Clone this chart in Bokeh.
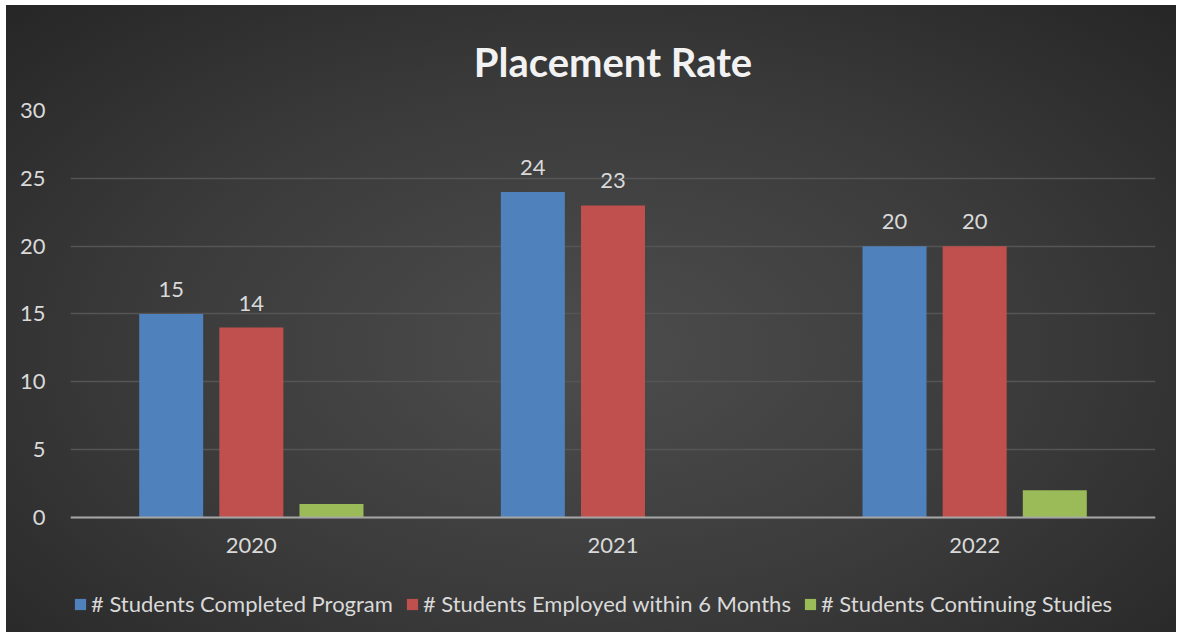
from bokeh.plotting import figure
from bokeh.models import ColumnDataSource, FactorRange, Range1d, Legend, LegendItem
from bokeh.transform import dodge
from bokeh.core.properties import value
from bokeh.embed import file_html
from bokeh.resources import INLINE

years = ["2020", "2021", "2022"]
completed = [15, 24, 20]
employed = [14, 23, 20]
continuing = [1, 0, 2]
series_names = ["# Students Completed Program", "# Students Employed within 6 Months", "# Students Continuing Studies"]
y_ticks = [0, 5, 10, 15, 20, 25, 30]

FONT = "Lato"
TXT = "#d9d9d9"
FS = "22px"

src = ColumnDataSource(dict(year=years, completed=completed, employed=employed, continuing=continuing,
                            lab_c=[str(v) for v in completed], lab_e=[str(v) for v in employed]))

# frame extends below the zero line so that the legend can sit inside it
p = figure(frame_width=1085, frame_height=522, output_backend="svg", toolbar_location=None,
           x_range=FactorRange(*years), y_range=Range1d(-8.48, 30),
           min_border_left=64, min_border_right=21, min_border_top=105, min_border_bottom=0)
p.styles = {"margin-left": "6px", "margin-top": "5px",
            "background-image": "radial-gradient(ellipse at 50% 55%, #4d4d4d 0%, #3a3a3a 55%, #262626 100%)"}
p.background_fill_alpha = 0
p.border_fill_alpha = 0
p.outline_line_color = None

off = 0.2216
w = 0.177
r1 = p.vbar(x=dodge("year", -off, range=p.x_range), top="completed", width=w, source=src,
            fill_color="#4f81bd", line_color=None)
r2 = p.vbar(x=dodge("year", 0, range=p.x_range), top="employed", width=w, source=src,
            fill_color="#c0504d", line_color=None)
r3 = p.vbar(x=dodge("year", off, range=p.x_range), top="continuing", width=w, source=src,
            fill_color="#9bbb59", line_color=None)

for col, lab, dx in (("completed", "lab_c", -off), ("employed", "lab_e", 0)):
    p.text(x=dodge("year", dx, range=p.x_range), y=col, text=lab, source=src,
           text_align="center", text_baseline="bottom", y_offset=-17,
           text_font=value(FONT), text_font_size=FS, text_color=TXT)

p.title.text = "Placement Rate"
p.title.align = "center"
p.title.offset = -18
p.title.text_font = "Lato"
p.title.text_font_style = "bold"
p.title.text_font_size = "40px"
p.title.text_color = "#f2f2f2"
p.title.standoff = 50

p.ygrid.ticker = y_ticks
p.ygrid.grid_line_color = "#555555"
p.ygrid.grid_line_width = 1.5
p.xgrid.grid_line_color = None

p.yaxis.ticker = y_ticks
p.yaxis.axis_line_color = None
p.yaxis.major_tick_line_color = None
p.yaxis.minor_tick_line_color = None
p.yaxis.major_label_standoff = 19
p.yaxis.major_label_text_font = FONT
p.yaxis.major_label_text_font_size = FS
p.yaxis.major_label_text_color = TXT

p.xaxis.fixed_location = 0
p.xaxis.axis_line_color = "#a6a6a6"
p.xaxis.axis_line_width = 2
p.xaxis.major_tick_line_color = None
p.xaxis.minor_tick_line_color = None
p.xaxis.major_label_standoff = 15
p.xaxis.major_label_text_font = FONT
p.xaxis.major_label_text_font_size = FS
p.xaxis.major_label_text_color = TXT

legend = Legend(items=[LegendItem(label=series_names[0], renderers=[r1]),
                       LegendItem(label=series_names[1], renderers=[r2]),
                       LegendItem(label=series_names[2], renderers=[r3])],
                orientation="horizontal", location=(3, 15),
                label_text_font=FONT, label_text_font_size=FS, label_text_color=TXT,
                glyph_width=14, glyph_height=14, label_standoff=4, spacing=12,
                background_fill_alpha=0, border_line_color=None, padding=4, margin=0)
p.add_layout(legend, "center")

open("out.html", "w").write(file_html(p, INLINE))
